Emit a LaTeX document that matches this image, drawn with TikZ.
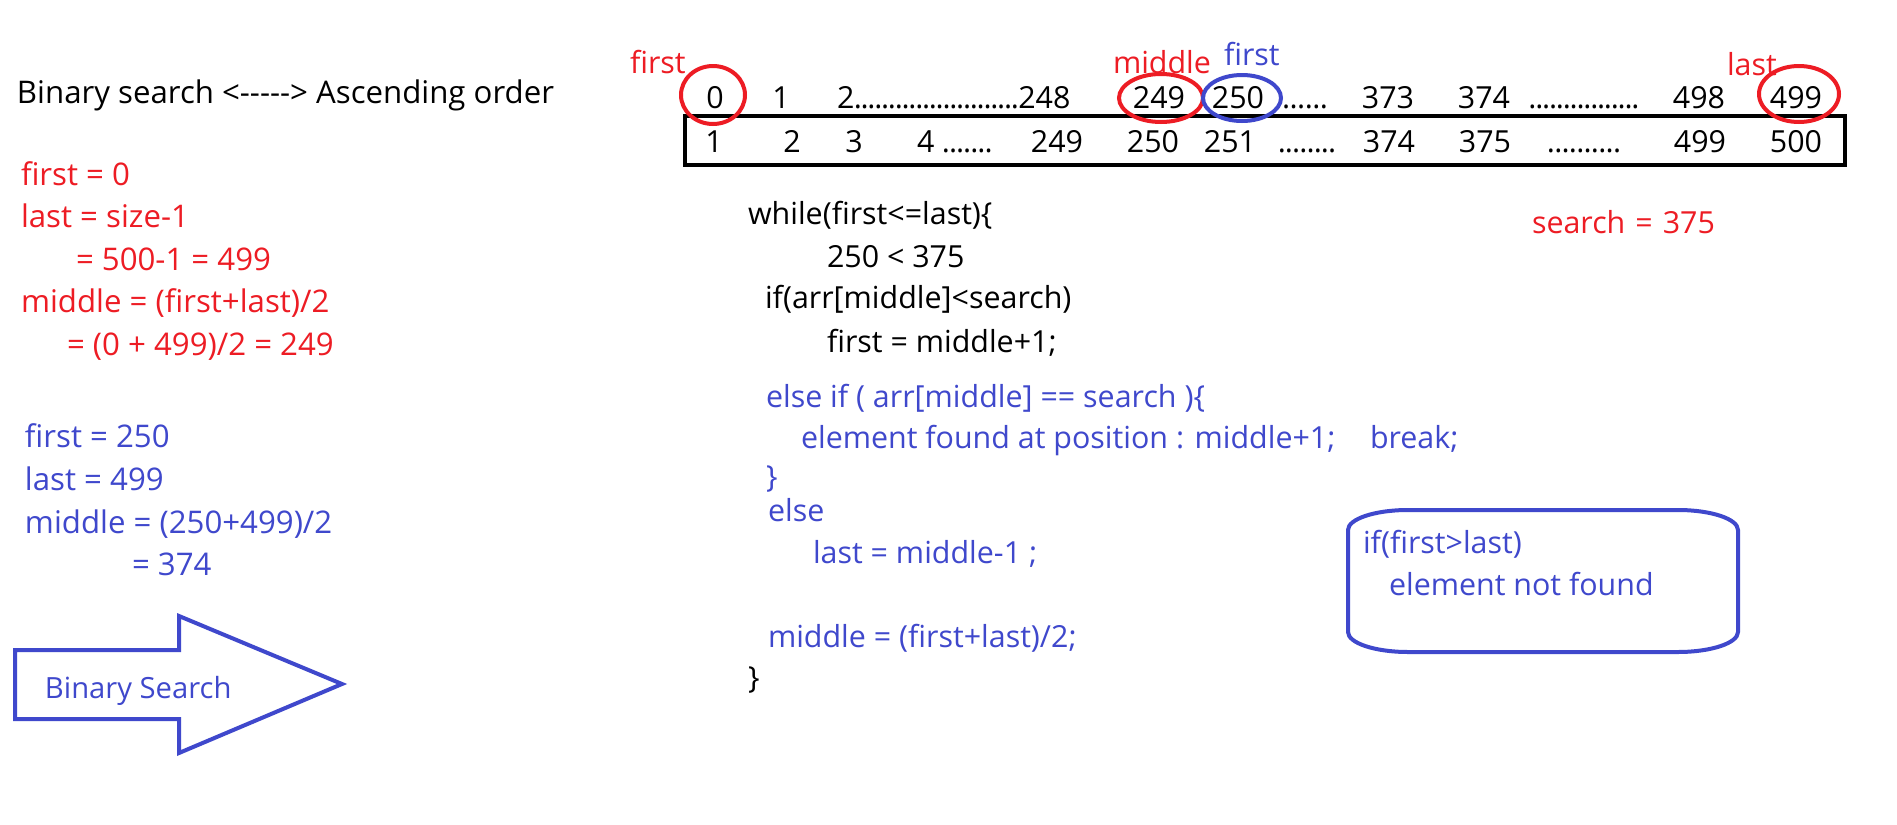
\documentclass[tikz,border=0pt]{standalone}
\usepackage{fontspec}
\setmainfont{Open Sans}
\definecolor{pred}{HTML}{ED1C24}
\definecolor{pblue}{HTML}{3F48CC}
\newcommand\dotrun[1]{\hbox to #1{\xleaders\hbox to 3.4pt{\hss.\hss}\hfill}}
\newcommand\fsbase{\fontsize{15.2pt}{18pt}\selectfont}
\newcommand\fsleft{\fontsize{15.6pt}{18pt}\selectfont}
\begin{document}
\begin{tikzpicture}[x=0.5pt,y=-0.5pt,
  every node/.style={inner sep=0pt,outer sep=0pt,font=\fsbase},
  tw/.style={anchor=base west},
  tc/.style={anchor=base},
  lf/.style={font=\fsleft},
  rd/.style={text=pred},
  bl/.style={text=pblue},
  ring/.style={line width=2pt},
]
\fill[white] (0,0) rectangle (1897,825);
\useasboundingbox (0,0) rectangle (1897,825);

% header
\node[tw,lf] (hdr) at (17,103) {Binary search <-{}-{}-{}-{}-> Ascending order};

% red block
\node[tw,lf,rd] (r1) at (21,185) {first = 0};
\node[tw,lf,rd] (r2) at (21,227) {last = size-1};
\node[tw,lf,rd] (r3) at (76,270) {= 500-1 = 499};
\node[tw,lf,rd] (r4) at (21,312) {middle = (first+last)/2};
\node[tw,lf,rd] (r5) at (67,355) {= (0 + 499)/2 = 249};

% blue block
\node[tw,lf,bl] (b1) at (25,447) {first = 250};
\node[tw,lf,bl] (b2) at (25,490) {last = 499};
\node[tw,lf,bl] (b3) at (25,533) {middle = (250+499)/2};
\node[tw,lf,bl] (b4) at (132,575) {= 374};

% big arrow
\draw[pblue,line width=2pt,line join=miter]
  (15,650) -- (179,650) -- (179,616) -- (342,684) -- (179,753) -- (179,719) -- (15,719) -- cycle;
\node[tw,bl,font=\fontsize{14.6pt}{17pt}\selectfont] (arrtxt) at (45,698) {Binary Search};

% array box
\draw[line width=2.2pt] (685,116) rectangle (1845,165);

% top row (indices)
\node[tc] (i0) at (715,108) {0};
\node[tc] (i1) at (781,108) {1};
\node[tw] (i2) at (837,108) {2\dotrun{82pt}248};
\node[tc] (i249) at (1159,108) {249};
\node[tc] (i250) at (1238,108) {250};
\node[tw] (d1) at (1282,108) {\dotrun{23pt}};
\node[tc] (i373) at (1388,108) {373};
\node[tc] (i374) at (1484,108) {374};
\node[tw] (d2) at (1529,108) {\dotrun{55pt}};
\node[tc] (i498) at (1699,108) {498};
\node[tc] (i499) at (1796,108) {499};

% bottom row (values)
\node[tc] (v1) at (714,152) {1};
\node[tc] (v2) at (792,152) {2};
\node[tc] (v3) at (854,152) {3};
\node[tw] (v4) at (917,152) {4 \dotrun{25pt}};
\node[tc] (v249) at (1057,152) {249};
\node[tc] (v250) at (1153,152) {250};
\node[tc] (v251) at (1230,152) {251};
\node[tw] (d3) at (1278,152) {\dotrun{29pt}};
\node[tc] (v374) at (1389,152) {374};
\node[tc] (v375) at (1485,152) {375};
\node[tw] (d4) at (1547,152) {\dotrun{37pt}};
\node[tc] (v499) at (1700,152) {499};
\node[tc] (v500) at (1796,152) {500};

% rings and labels
\draw[ring,pred] (713,95) ellipse [x radius=16pt, y radius=14.5pt];
\draw[ring,pred] (1161,98) ellipse [x radius=21pt, y radius=12pt];
\draw[ring,pblue] (1242,98) ellipse [x radius=19.5pt, y radius=11.5pt];
\draw[ring,pred] (1799,94) ellipse [x radius=20pt, y radius=14pt];
\node[tw,rd] (lfirst) at (630,73) {first};
\node[tw,rd] (lmid) at (1113,73) {middle};
\node[tw,bl] (lfirst2) at (1224,65) {first};
\node[tw,rd] (llast) at (1727,75) {last};

% code
\node[tw] (c1) at (748,224) {while(first<=last)\{};
\node[tw] (c2) at (827,267) {250 < 375};
\node[tw] (c3) at (765,308) {if(arr[middle]<search)};
\node[tw] (c4) at (827,352) {first = middle+1;};
\node[tw,bl] (c5) at (766,407) {else if ( arr[middle] == search )\{};
\node[tw,bl] (c6) at (801,448) {element found at position : middle+1;};
\node[tw,bl] (c6b) at (1370,448) {break;};
\node[tw,bl] (c7) at (766,487) {\}};
\node[tw,bl] (c8) at (768,521) {else};
\node[tw,bl] (c9) at (813,563) {last = middle-1 ;};
\node[tw,bl] (c10) at (768,647) {middle = (first+last)/2;};
\node[tw] (c11) at (748,688) {\}};

\node[tw,rd] (srch) at (1532,233) {search\hspace{5pt}=\hspace{5pt}375};

% not-found box
\draw[pblue,line width=2pt]
  (1408,510) -- (1678,510)
  arc[start angle=90, end angle=0, x radius=30pt, y radius=10pt]
  -- (1738,632)
  arc[start angle=0, end angle=-90, x radius=30pt, y radius=10pt]
  -- (1408,652)
  arc[start angle=270, end angle=180, x radius=30pt, y radius=10pt]
  -- (1348,530)
  arc[start angle=180, end angle=90, x radius=30pt, y radius=10pt]
  -- cycle;
\node[tw,bl] (nf1) at (1363,553) {if(first>last)};
\node[tw,bl] (nf2) at (1389,595) {element not found};
\end{tikzpicture}
\end{document}
